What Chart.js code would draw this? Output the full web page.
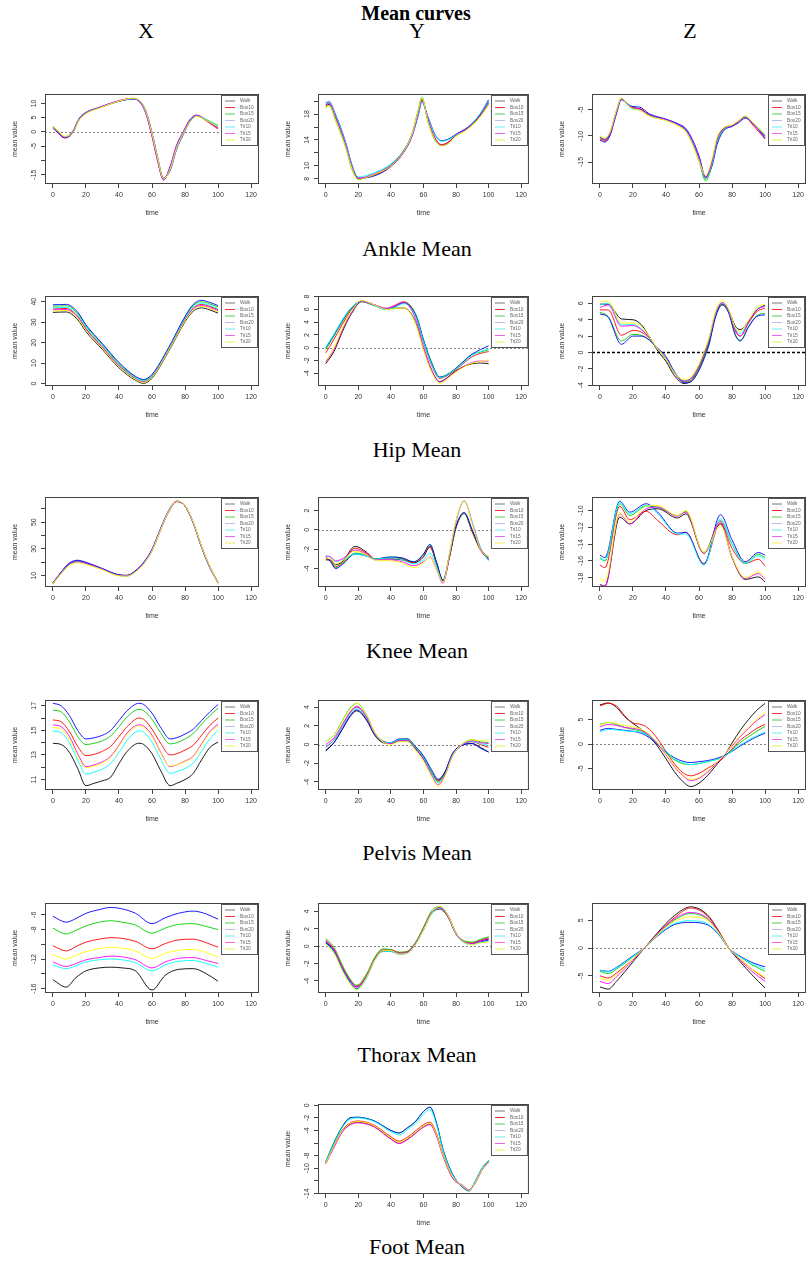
<!DOCTYPE html>
<html>
<head>
<meta charset="utf-8">
<script src="https://cdn.jsdelivr.net/npm/chart.js@4.4.0/dist/chart.umd.min.js"></script>
<style>
  body { margin: 0; width: 807px; height: 1266px; background: #fff; position: relative; overflow: hidden; }
  .lbl { position: absolute; transform: translate(-50%, -50%); font-family: "Liberation Serif", "Times New Roman", serif; color: #000; white-space: nowrap; line-height: 1; }
  .main { font-weight: bold; font-size: 20px; }
  .axis { font-size: 22px; }
  .row { font-size: 22px; }
  canvas { position: absolute; }
</style>
</head>
<body>
<div class="lbl main" style="left:416px;top:13px">Mean curves</div>
<div class="lbl axis" style="left:146px;top:31px">X</div>
<div class="lbl axis" style="left:417px;top:31px">Y</div>
<div class="lbl axis" style="left:690px;top:31px">Z</div>
<div class="lbl row" style="left:417px;top:249px">Ankle Mean</div>
<div class="lbl row" style="left:417px;top:450px">Hip Mean</div>
<div class="lbl row" style="left:417px;top:651px">Knee Mean</div>
<div class="lbl row" style="left:417px;top:853px">Pelvis Mean</div>
<div class="lbl row" style="left:417px;top:1055px">Thorax Mean</div>
<div class="lbl row" style="left:417px;top:1247px">Foot Mean</div>

<script>
// --- series names and shared x ticks ---
const SERIES = ['Walk', 'Box10', 'Box15', 'Box20', 'Tri10', 'Tri15', 'Tri20'];
const timeTicks = [0, 20, 40, 60, 80, 100, 120];

// --- Ankle X ---
const ankleX_time  = [0,3,7,12,16,20,28,38,48,52,56,60,63,67,71,75,79,83,87,93,100];
const ankleX_walk  = [1.6,0.0,-2.0,0.0,4.8,6.8,8.5,10.5,11.6,10.9,7.0,-1.3,-9.0,-16.8,-12.3,-4.7,0.0,4.2,5.9,4.0,1.5];
const ankleX_box10 = [1.3,-0.3,-2.1,-0.2,4.6,6.7,8.5,10.6,11.8,11.0,7.2,-1.0,-8.7,-16.6,-12.6,-5.0,-0.2,4.0,5.8,3.8,1.0];
const ankleX_box15 = [2.0,0.4,-1.7,0.2,4.9,6.9,8.6,10.5,11.6,11.0,7.3,-0.8,-8.5,-16.5,-12.8,-5.2,-0.3,3.9,5.8,4.3,2.2];
const ankleX_box20 = [1.4,-0.2,-2.1,-0.4,4.4,6.6,8.4,10.4,11.5,11.1,7.8,-0.2,-7.8,-16.2,-13.6,-6.0,-0.9,3.6,5.7,4.1,1.4];
const ankleX_tri10 = [1.5,0.1,-1.8,0.1,4.9,6.9,8.5,10.5,11.6,10.9,7.1,-1.1,-8.8,-16.7,-12.5,-4.9,-0.1,4.1,5.8,4.2,1.9];
const ankleX_tri15 = [1.6,0.0,-1.9,0.0,4.7,6.8,8.6,10.6,11.7,10.8,6.8,-1.6,-9.3,-16.9,-12.0,-4.4,0.2,4.4,5.8,3.9,1.3];
const ankleX_tri20 = [1.8,0.3,-1.5,-0.4,4.2,6.4,8.3,10.4,11.8,11.3,7.6,-0.5,-8.1,-16.4,-13.2,-5.6,-0.6,3.5,5.4,4.0,1.7];
const ankleX_ticks = [-15,-10,-5,0,5,10];
const ankleX_labels = ['-15','','-5','0','5','10'];

// --- Ankle Y ---
const ankleY_time  = [0,2,6,12,16,20,26,34,40,47,53,57,59,63,67,71,75,80,87,94,100];
const ankleY_walk  = [19.3,19.5,17.4,13.3,9.8,8.0,8.3,9.1,10.1,12.0,14.9,18.6,20.3,16.8,14.2,13.2,13.6,14.8,15.9,17.6,19.9];
const ankleY_box10 = [19.5,19.7,17.6,13.5,9.9,8.0,8.3,9.0,10.0,11.8,14.7,18.4,20.1,17.0,14.4,13.3,13.6,14.7,15.8,17.4,19.4];
const ankleY_box15 = [19.0,19.3,17.0,13.0,9.5,7.9,8.4,9.2,10.2,12.1,15.0,18.9,20.6,16.6,14.0,13.1,13.4,14.6,15.7,17.4,19.6];
const ankleY_box20 = [19.7,19.9,17.9,13.8,10.2,8.1,8.2,8.9,9.9,11.8,14.6,18.0,19.9,17.4,14.9,13.9,14.1,14.9,15.9,17.7,20.2];
const ankleY_tri10 = [19.6,19.8,17.8,13.7,10.1,8.3,8.6,9.4,10.3,12.1,14.8,18.2,19.9,17.2,14.8,13.8,14.0,14.8,15.8,17.8,20.0];
const ankleY_tri15 = [19.4,19.6,17.5,13.4,9.9,8.1,8.4,9.2,10.1,12.0,14.8,18.5,20.2,16.9,14.3,13.2,13.5,14.7,15.8,17.5,19.7];
const ankleY_tri20 = [19.1,19.3,17.1,13.0,9.6,7.9,8.3,9.1,10.0,11.9,14.9,18.8,20.5,16.6,14.1,13.1,13.4,14.6,15.6,17.3,19.4];
const ankleY_ticks = [8,10,12,14,16,18,20];
const ankleY_labels = ['8','10','','14','','18',''];

// --- Ankle Z ---
const ankleZ_time  = [0,3,6,10,13,17,20,24,30,40,48,52,56,60,64,68,71,75,80,84,88,92,100];
const ankleZ_walk  = [-10.3,-10.8,-9.6,-5.3,-2.9,-4.0,-4.6,-4.8,-6.0,-6.9,-7.9,-8.8,-11.1,-14.3,-18.0,-14.8,-10.6,-8.6,-8.0,-7.2,-6.3,-7.5,-10.0];
const ankleZ_box10 = [-10.6,-11.0,-9.8,-5.5,-3.0,-4.1,-4.7,-4.8,-6.1,-7.0,-8.0,-8.9,-11.2,-14.5,-18.2,-15.0,-10.8,-8.6,-8.1,-7.3,-6.4,-7.7,-10.6];
const ankleZ_box15 = [-10.2,-10.6,-9.4,-5.2,-2.8,-4.0,-4.8,-5.0,-6.2,-7.0,-8.1,-9.1,-11.5,-14.8,-18.6,-15.5,-11.2,-8.8,-8.0,-7.1,-6.4,-7.5,-9.9];
const ankleZ_box20 = [-10.8,-11.2,-10.0,-5.8,-3.1,-4.0,-4.4,-4.5,-5.8,-6.8,-7.8,-8.6,-10.7,-13.8,-17.8,-15.6,-11.6,-9.0,-8.2,-7.5,-6.6,-7.4,-10.4];
const ankleZ_tri10 = [-10.0,-10.5,-9.5,-5.3,-2.9,-4.2,-4.9,-5.0,-6.2,-7.0,-8.0,-8.9,-11.2,-14.4,-18.2,-15.2,-10.9,-8.7,-8.0,-7.2,-6.3,-7.3,-9.8];
const ankleZ_tri15 = [-10.2,-10.7,-9.6,-5.4,-2.9,-4.1,-4.7,-4.9,-6.1,-6.9,-8.0,-8.9,-11.0,-14.2,-17.9,-14.7,-10.6,-8.6,-8.0,-7.2,-6.3,-7.5,-10.1];
const ankleZ_tri20 = [-10.1,-10.4,-9.3,-5.1,-2.8,-4.1,-4.8,-5.1,-6.2,-7.1,-8.2,-9.2,-11.6,-14.9,-17.5,-14.2,-10.2,-8.4,-7.9,-7.1,-6.2,-7.2,-9.7];
const ankleZ_ticks = [-15,-10,-5];
const ankleZ_labels = ['-15','-10','-5'];

// --- Hip X ---
const hipX_time  = [0,8,15,20,30,40,50,55,60,70,80,85,90,95,100];
const hipX_walk  = [34.8,35.0,31.2,25.4,16.6,7.7,1.6,0.1,2.6,15.6,30.2,35.4,37.0,36.0,34.4];
const hipX_box10 = [36.5,36.7,32.9,26.9,17.9,8.9,2.5,1.0,3.5,16.5,31.4,36.9,38.7,37.7,36.1];
const hipX_box15 = [37.8,38.0,34.2,28.1,19.0,9.8,3.1,1.6,4.1,17.1,32.3,38.1,40.0,39.0,37.4];
const hipX_box20 = [38.5,38.7,34.9,28.7,19.5,10.3,3.5,2.0,4.5,17.5,32.8,38.7,40.7,39.7,38.1];
const hipX_tri10 = [37.0,37.2,33.4,27.4,18.3,9.3,2.7,1.2,3.7,16.7,31.8,37.4,39.2,38.2,36.6];
const hipX_tri15 = [36.0,36.2,32.4,26.5,17.5,8.6,2.2,0.7,3.2,16.2,31.1,36.5,38.2,37.2,35.6];
const hipX_tri20 = [35.5,35.7,31.9,26.0,17.1,8.2,2.0,0.5,3.0,16.0,30.7,36.0,37.7,36.7,35.1];
const hipX_ticks = [0,10,20,30,40];
const hipX_labels = ['0','10','20','30','40'];

// --- Hip Y ---
const hipY_time  = [0,5,10,15,22,30,37,42,48,52,56,60,65,70,75,80,90,95,100];
const hipY_walk  = [-2.5,-0.6,2.4,5.0,7.2,6.6,6.1,6.2,6.2,5.5,3.4,-0.1,-3.6,-5.3,-4.6,-3.6,-2.5,-2.4,-2.5];
const hipY_box10 = [-0.8,1.3,3.6,5.7,7.3,6.7,6.1,6.6,7.2,6.5,4.5,0.9,-2.7,-4.8,-4.3,-3.4,-1.4,-0.9,-0.6];
const hipY_box15 = [-0.3,1.8,4.0,5.9,7.3,6.6,6.0,6.4,7.1,6.6,4.8,1.3,-2.3,-4.6,-4.1,-3.2,-1.0,-0.7,-0.3];
const hipY_box20 = [0.0,2.0,4.2,6.0,7.3,6.7,6.0,6.4,7.0,6.4,4.6,1.2,-2.4,-4.6,-4.2,-3.2,-1.0,-0.3,0.3];
const hipY_tri10 = [0.1,2.1,4.3,6.1,7.3,6.6,6.0,6.3,6.9,6.3,4.4,1.0,-2.6,-4.7,-4.2,-3.3,-1.2,-0.6,-0.2];
const hipY_tri15 = [-2.2,-0.3,2.7,5.2,7.3,6.7,6.2,6.5,7.1,6.2,3.9,0.2,-3.4,-5.4,-4.7,-3.7,-2.3,-2.1,-2.1];
const hipY_tri20 = [-2.0,0.0,3.0,5.4,7.4,6.7,6.0,6.1,6.2,5.4,3.2,-0.3,-3.8,-5.6,-4.8,-3.8,-2.4,-2.2,-1.9];
const hipY_ticks = [-4,-2,0,2,4,6,8];
const hipY_labels = ['-4','-2','0','2','4','6','8'];

// --- Hip Z ---
const hipZ_time  = [0,5,13,20,25,30,35,40,45,51,55,60,63,66,70,74,78,82,85,90,95,100];
const hipZ_walk  = [5.9,5.9,4.1,4.0,3.4,1.9,0.2,-1.1,-2.8,-3.8,-3.5,-2.0,-0.5,1.2,4.5,5.9,5.1,3.2,2.8,3.8,5.2,5.8];
const hipZ_box10 = [5.2,5.2,2.1,2.7,2.5,1.7,0.4,-0.8,-2.5,-3.5,-3.3,-1.7,-0.2,1.5,4.7,5.9,5.0,2.6,2.0,3.6,5.0,5.4];
const hipZ_box15 = [4.9,4.4,1.4,2.2,2.1,1.5,0.4,-0.7,-2.4,-3.6,-3.5,-2.0,-0.6,1.1,4.5,5.9,4.9,2.2,1.5,3.2,4.5,4.8];
const hipZ_box20 = [4.7,4.3,1.0,2.0,2.0,1.5,0.5,-0.5,-2.3,-3.7,-3.6,-2.2,-0.8,0.9,4.3,5.8,4.8,2.1,1.4,3.1,4.4,4.6];
const hipZ_tri10 = [5.8,6.0,3.4,3.4,2.9,1.8,0.4,-0.8,-2.4,-3.4,-3.2,-1.6,-0.1,1.6,4.8,6.1,5.1,2.9,2.3,3.8,5.3,5.6];
const hipZ_tri15 = [5.5,5.8,3.2,3.3,2.8,1.8,0.4,-0.8,-2.5,-3.5,-3.2,-1.6,-0.1,1.6,4.8,6.1,5.1,2.8,2.0,3.7,5.2,5.7];
const hipZ_tri20 = [6.2,6.3,3.6,3.6,3.2,1.9,0.4,-0.8,-2.5,-3.3,-3.0,-1.4,0.1,1.8,5.0,6.4,5.3,3.0,2.6,4.0,5.5,5.9];
const hipZ_ticks = [-4,-2,0,2,4,6];
const hipZ_labels = ['-4','-2','0','2','4','6'];

// --- Knee X ---
const kneeX_time  = [0,5,10,15,20,30,40,45,50,55,60,65,70,75,80,85,90,95,100];
const kneeX_walk  = [4.5,12.5,19.0,21.0,19.5,15.0,10.5,10.2,13.5,19.5,29.0,44.0,58.0,65.5,62.0,49.5,31.5,16.5,4.8];
const kneeX_box10 = [4.2,12.0,18.5,20.5,19.2,14.8,10.3,10.0,13.2,19.0,28.5,43.5,57.5,65.3,62.2,49.8,31.8,16.8,4.5];
const kneeX_box15 = [3.8,11.5,18.2,20.3,19.0,14.8,10.4,10.1,13.4,19.3,28.8,43.8,57.8,65.6,62.0,49.4,31.4,16.2,4.2];
const kneeX_box20 = [4.6,12.8,19.5,21.5,20.0,15.3,10.6,10.2,13.8,20.0,29.8,44.8,58.5,65.8,62.0,49.2,31.2,16.0,4.8];
const kneeX_tri10 = [4.4,12.2,18.6,20.5,19.0,14.6,10.0,9.7,13.0,19.0,28.8,44.0,58.0,65.6,62.1,49.6,31.6,16.4,4.6];
const kneeX_tri15 = [4.5,12.3,18.6,20.4,19.1,14.7,10.1,9.8,13.2,19.3,28.8,43.8,57.7,65.5,62.1,49.7,31.7,16.6,4.7];
const kneeX_tri20 = [4.0,11.5,17.6,19.6,18.4,14.3,9.8,9.6,12.8,18.8,28.5,43.6,57.8,65.8,62.4,49.9,31.9,16.9,4.4];
const kneeX_ticks = [10,20,30,40,50,60];
const kneeX_labels = ['10','','30','','50',''];

// --- Knee Y ---
const kneeY_time  = [0,3,6,10,18,25,30,40,47,54,60,64,68,72,76,80,85,90,95,100];
const kneeY_walk  = [-3.1,-3.1,-3.6,-3.3,-1.7,-2.3,-3.0,-3.0,-3.1,-3.4,-2.8,-1.7,-3.4,-5.3,-2.8,0.3,1.7,-0.2,-2.0,-2.9];
const kneeY_box10 = [-3.0,-3.2,-3.8,-3.4,-1.9,-2.4,-3.0,-2.9,-3.0,-3.4,-2.6,-1.8,-3.5,-5.3,-2.8,0.2,1.7,-0.2,-2.1,-3.0];
const kneeY_box15 = [-2.8,-3.3,-3.9,-3.5,-2.4,-2.6,-3.0,-2.8,-2.9,-3.3,-2.5,-1.5,-3.4,-5.2,-2.7,0.3,1.7,-0.1,-2.0,-2.8];
const kneeY_box20 = [-2.8,-3.3,-4.0,-3.6,-2.5,-2.7,-3.0,-2.8,-2.9,-3.3,-2.5,-1.5,-3.3,-5.2,-2.6,0.4,1.8,0.0,-2.0,-3.1];
const kneeY_tri10 = [-2.7,-2.8,-3.3,-3.1,-2.5,-2.7,-3.0,-2.9,-3.1,-3.5,-3.1,-2.4,-3.8,-5.4,-2.5,0.9,3.0,0.8,-1.8,-3.2];
const kneeY_tri15 = [-2.7,-2.8,-3.2,-3.0,-2.1,-2.5,-3.1,-3.1,-3.3,-3.7,-3.3,-2.8,-4.1,-5.5,-2.5,0.9,3.0,0.7,-1.9,-2.9];
const kneeY_tri20 = [-2.9,-3.0,-3.5,-3.2,-2.2,-2.6,-3.1,-3.2,-3.4,-3.9,-3.4,-2.8,-4.1,-5.4,-2.4,1.0,3.0,0.6,-2.0,-2.8];
const kneeY_ticks = [-4,-2,0,2];
const kneeY_labels = ['-4','-2','0','2'];

// --- Knee Z ---
const kneeZ_time  = [0,3,12,18,28,35,47,52,63,73,80,88,96,100];
const kneeZ_walk  = [-18.8,-19.0,-10.8,-11.6,-10.0,-9.8,-10.9,-10.4,-15.1,-11.6,-15.6,-18.2,-17.9,-18.5];
const kneeZ_box10 = [-16.5,-16.8,-9.5,-11.1,-10.1,-11.2,-12.9,-12.6,-16.3,-11.5,-14.5,-16.3,-15.8,-16.6];
const kneeZ_box15 = [-15.7,-16.0,-9.2,-10.6,-9.5,-9.6,-10.6,-10.1,-15.0,-11.2,-14.0,-16.3,-15.2,-15.6];
const kneeZ_box20 = [-15.3,-15.6,-8.9,-10.2,-9.2,-10.2,-12.7,-12.6,-16.4,-10.5,-13.5,-16.1,-15.0,-15.3];
const kneeZ_tri10 = [-15.6,-15.9,-9.0,-10.4,-9.4,-10.4,-12.8,-12.8,-16.5,-11.0,-14.0,-16.3,-15.4,-15.8];
const kneeZ_tri15 = [-18.8,-19.0,-10.4,-11.6,-9.8,-9.6,-10.7,-10.2,-15.1,-11.3,-15.5,-18.1,-17.5,-18.2];
const kneeZ_tri20 = [-18.1,-18.4,-10.3,-11.4,-9.5,-9.4,-10.6,-10.0,-15.0,-11.8,-15.5,-18.0,-17.3,-17.9];
const kneeZ_ticks = [-18,-16,-14,-12,-10];
const kneeZ_labels = ['-18','-16','-14','-12','-10'];

// --- Pelvis X ---
const pelvisX_time  = [0,5,10,15,20,25,30,35,40,45,52,55,60,65,71,75,80,85,90,95,100];
const pelvisX_walk  = [13.95,13.85,13.2,11.9,10.5,10.7,10.9,11.2,12.3,13.3,13.95,13.85,13.1,11.8,10.5,10.7,11.0,11.5,12.6,13.6,14.05];
const pelvisX_box10 = [15.85,15.7,14.9,13.7,12.95,13.05,13.3,13.7,14.5,15.3,16.0,15.9,15.1,14.0,13.0,13.1,13.4,13.8,14.6,15.4,16.0];
const pelvisX_box15 = [16.65,16.5,15.7,14.5,13.85,13.95,14.15,14.55,15.3,16.1,16.7,16.6,15.9,14.85,13.9,14.0,14.3,14.75,15.5,16.2,16.8];
const pelvisX_box20 = [17.2,17.0,16.2,15.0,14.3,14.4,14.6,15.0,15.8,16.6,17.2,17.1,16.4,15.3,14.3,14.4,14.7,15.1,15.8,16.5,17.1];
const pelvisX_tri10 = [14.95,14.8,14.0,12.6,11.45,11.6,11.85,12.3,13.2,14.2,14.95,14.85,14.05,12.75,11.5,11.65,11.9,12.35,13.3,14.3,15.0];
const pelvisX_tri15 = [15.45,15.3,14.5,13.1,12.05,12.2,12.45,12.9,13.8,14.8,15.45,15.35,14.6,13.3,12.05,12.2,12.5,12.9,13.9,14.9,15.5];
const pelvisX_tri20 = [15.25,15.1,14.3,12.9,11.95,12.1,12.35,12.8,13.7,14.7,15.35,15.25,14.5,13.2,12.1,12.2,12.45,12.85,13.8,14.8,15.35];
const pelvisX_ticks = [11,12,13,14,15,16,17];
const pelvisX_labels = ['11','','13','','15','','17'];

// --- Pelvis Y ---
const pelvisY_time  = [0,5,10,15,19,25,30,35,40,45,50,55,60,65,69,73,78,85,90,95,100];
const pelvisY_walk  = [-0.7,0.2,1.6,3.0,3.6,2.6,1.0,0.2,0.1,0.4,0.4,-0.4,-1.5,-3.0,-3.8,-3.0,-1.0,0.0,0.1,-0.3,-0.8];
const pelvisY_box10 = [-0.3,0.5,1.9,3.4,4.0,2.9,1.2,0.3,0.2,0.5,0.5,-0.3,-1.4,-3.0,-3.9,-3.1,-1.0,0.1,0.3,0.0,-0.3];
const pelvisY_box15 = [0.3,1.0,2.5,3.9,4.4,3.2,1.3,0.4,0.2,0.5,0.6,-0.2,-1.3,-2.9,-4.0,-3.2,-1.1,0.2,0.5,0.3,0.2];
const pelvisY_box20 = [-0.6,0.2,1.6,3.1,3.7,2.7,1.1,0.3,0.2,0.6,0.6,-0.2,-1.2,-2.7,-3.7,-3.0,-0.9,0.0,0.1,-0.4,-0.8];
const pelvisY_tri10 = [-0.2,0.5,1.9,3.3,3.9,2.9,1.2,0.3,0.2,0.5,0.5,-0.3,-1.4,-3.1,-4.1,-3.3,-1.1,0.1,0.3,0.1,-0.1];
const pelvisY_tri15 = [0.0,0.7,2.1,3.5,4.1,3.0,1.2,0.3,0.1,0.4,0.4,-0.5,-1.6,-3.3,-4.3,-3.4,-1.2,0.1,0.4,0.2,0.1];
const pelvisY_tri20 = [0.3,1.0,2.4,3.8,4.4,3.2,1.3,0.3,0.0,0.3,0.3,-0.6,-1.8,-3.5,-4.5,-3.5,-1.2,0.2,0.5,0.4,0.4];
const pelvisY_ticks = [-4,-2,0,2,4];
const pelvisY_labels = ['-4','-2','0','2','4'];

// --- Pelvis Z ---
const pelvisZ_time  = [0,5,10,15,20,25,30,35,40,45,50,55,60,65,70,75,80,85,90,95,100];
const pelvisZ_walk  = [8.0,8.4,7.5,5.6,4.2,3.0,1.5,-0.5,-3.0,-5.6,-7.6,-8.7,-8.0,-6.5,-4.5,-2.5,0.2,2.8,5.0,6.9,8.3];
const pelvisZ_box10 = [7.8,8.3,7.8,5.8,4.3,4.0,3.0,1.0,-1.5,-4.0,-5.8,-6.5,-6.0,-5.0,-4.0,-2.8,-1.0,0.8,2.0,3.2,4.0];
const pelvisZ_box15 = [4.0,4.4,4.0,3.4,3.0,2.6,1.6,0.0,-1.8,-3.2,-4.0,-4.2,-4.0,-3.6,-3.2,-2.5,-1.2,0.3,1.5,2.6,3.6];
const pelvisZ_box20 = [2.8,3.2,3.0,2.8,2.6,2.2,1.3,-0.2,-1.6,-2.8,-3.5,-3.8,-3.6,-3.4,-3.0,-2.4,-1.5,-0.4,0.6,1.5,2.2];
const pelvisZ_tri10 = [2.5,3.0,2.9,2.7,2.6,2.4,1.6,0.2,-1.5,-3.0,-3.8,-4.2,-4.0,-3.6,-3.2,-2.6,-1.4,-0.2,0.8,1.7,2.4];
const pelvisZ_tri15 = [3.5,4.0,3.8,3.4,3.2,2.8,1.8,0.0,-2.2,-4.6,-6.4,-7.5,-7.0,-5.8,-4.2,-2.4,-0.4,1.5,3.2,4.8,6.0];
const pelvisZ_tri20 = [3.8,4.4,4.2,3.8,3.5,3.0,2.0,0.2,-2.0,-4.4,-6.2,-7.2,-6.8,-5.5,-4.0,-2.3,-0.2,1.7,3.5,5.0,6.5];
const pelvisZ_ticks = [-5,0,5];
const pelvisZ_labels = ['-5','0','5'];

// --- Thorax X ---
const thoraxX_time  = [0,8,14,20,28,35,42,50,60,68,76,85,93,100];
const thoraxX_walk  = [-14.8,-15.8,-14.5,-13.6,-13.2,-13.1,-13.2,-13.6,-16.2,-14.2,-13.4,-13.3,-14.0,-15.0];
const thoraxX_box10 = [-10.2,-10.9,-10.3,-9.7,-9.3,-9.1,-9.2,-9.6,-10.6,-9.9,-9.4,-9.3,-9.8,-10.4];
const thoraxX_box15 = [-7.8,-8.6,-8.1,-7.5,-7.0,-6.8,-7.0,-7.4,-8.5,-7.8,-7.3,-7.2,-7.6,-8.0];
const thoraxX_box20 = [-6.2,-7.0,-6.5,-5.8,-5.3,-5.0,-5.2,-5.8,-7.2,-6.4,-5.8,-5.5,-5.9,-6.6];
const thoraxX_tri10 = [-12.8,-13.3,-12.9,-12.4,-12.1,-12.0,-12.1,-12.5,-13.6,-12.8,-12.3,-12.2,-12.6,-13.1];
const thoraxX_tri15 = [-12.4,-13.0,-12.6,-12.1,-11.8,-11.6,-11.7,-12.1,-13.2,-12.4,-11.9,-11.8,-12.2,-12.6];
const thoraxX_tri20 = [-11.4,-12.0,-11.5,-11.0,-10.6,-10.4,-10.5,-10.9,-11.9,-11.2,-10.8,-10.7,-11.1,-11.7];
const thoraxX_ticks = [-16,-14,-12,-10,-8,-6];
const thoraxX_labels = ['-16','','-12','','-8','-6'];

// --- Thorax Y ---
const thoraxY_time  = [0,5,10,15,19,25,30,35,40,45,50,55,60,65,70,75,80,85,90,95,100];
const thoraxY_walk  = [0.5,-0.5,-2.5,-4.0,-4.7,-3.5,-1.5,-0.5,-0.5,-0.8,-0.7,0.3,2.0,3.8,4.3,3.4,1.4,0.5,0.3,0.6,0.8];
const thoraxY_box10 = [0.7,-0.3,-2.3,-3.9,-4.6,-3.4,-1.4,-0.4,-0.4,-0.7,-0.6,0.4,2.1,3.9,4.4,3.5,1.5,0.6,0.4,0.7,1.0];
const thoraxY_box15 = [0.9,-0.1,-2.1,-3.8,-4.5,-3.2,-1.3,-0.3,-0.4,-0.7,-0.6,0.4,2.2,4.1,4.6,3.6,1.5,0.6,0.5,0.8,1.1];
const thoraxY_box20 = [0.4,-0.6,-2.6,-4.2,-4.9,-3.6,-1.6,-0.6,-0.6,-0.9,-0.8,0.2,1.9,3.8,4.5,3.6,1.5,0.5,0.3,0.5,0.7];
const thoraxY_tri10 = [0.3,-0.7,-2.7,-4.3,-5.0,-3.7,-1.6,-0.6,-0.6,-0.9,-0.8,0.2,1.9,3.7,4.4,3.5,1.4,0.4,0.2,0.4,0.6];
const thoraxY_tri15 = [0.6,-0.4,-2.4,-4.0,-4.7,-3.5,-1.5,-0.5,-0.5,-0.8,-0.7,0.3,2.0,3.9,4.5,3.5,1.4,0.5,0.3,0.6,0.9];
const thoraxY_tri20 = [0.2,-0.8,-2.8,-4.4,-5.0,-3.6,-1.6,-0.5,-0.5,-0.9,-0.8,0.2,1.9,3.8,4.6,3.6,1.5,0.5,0.2,0.4,0.5];
const thoraxY_ticks = [-4,-2,0,2,4];
const thoraxY_labels = ['-4','-2','0','2','4'];

// --- Thorax Z ---
const thoraxZ_time  = [0,5,10,20,27,35,45,55,65,72,78,85,92,100];
const thoraxZ_walk  = [-7.0,-7.4,-6.0,-2.5,0.0,2.8,5.8,7.4,6.0,3.0,0.0,-2.5,-4.8,-7.2];
const thoraxZ_box10 = [-5.0,-5.4,-4.5,-2.0,0.0,2.6,5.4,7.2,5.8,3.0,0.0,-2.0,-3.8,-5.5];
const thoraxZ_box15 = [-4.2,-4.6,-3.8,-1.6,0.0,2.4,5.0,6.2,5.2,2.8,0.0,-1.6,-3.0,-4.2];
const thoraxZ_box20 = [-4.0,-4.2,-3.5,-1.4,0.0,2.2,4.2,4.6,4.2,2.4,0.0,-1.5,-2.6,-3.4];
const thoraxZ_tri10 = [-4.0,-4.3,-3.6,-1.5,0.0,2.3,4.4,4.9,4.4,2.5,0.0,-1.6,-2.8,-3.8];
const thoraxZ_tri15 = [-6.0,-6.4,-5.2,-2.2,0.0,2.6,5.2,6.4,5.4,2.8,0.0,-2.2,-4.2,-6.0];
const thoraxZ_tri20 = [-5.5,-5.8,-4.8,-2.0,0.0,2.4,4.8,5.6,5.0,2.7,0.0,-2.0,-3.8,-5.2];
const thoraxZ_ticks = [-5,0,5];
const thoraxZ_labels = ['-5','0','5'];

// --- Foot (Y only) ---
const foot_time  = [0,5,10,15,20,25,30,40,45,50,55,60,64,68,72,78,84,88,92,96,100];
const foot_walk  = [-9.2,-6.6,-4.2,-3.0,-2.7,-2.9,-3.4,-5.3,-6.0,-5.4,-4.4,-3.4,-3.0,-4.8,-8.0,-11.5,-12.8,-13.5,-12.2,-10.2,-9.0];
const foot_box10 = [-9.1,-6.4,-4.0,-2.8,-2.5,-2.7,-3.2,-5.0,-5.7,-5.1,-4.1,-3.1,-2.7,-4.5,-7.8,-11.4,-12.9,-13.5,-12.1,-10.1,-8.9];
const foot_box15 = [-8.9,-5.9,-3.4,-2.0,-1.9,-2.1,-2.5,-4.0,-4.4,-3.6,-2.6,-1.0,-0.3,-2.8,-7.0,-11.0,-13.0,-13.6,-12.0,-10.0,-8.8];
const foot_box20 = [-9.0,-6.0,-3.5,-2.0,-1.9,-2.1,-2.5,-4.0,-4.4,-3.6,-2.6,-1.0,-0.3,-2.8,-7.0,-11.0,-13.0,-13.6,-12.0,-10.0,-8.8];
const foot_tri10 = [-9.0,-6.1,-3.6,-2.2,-2.0,-2.2,-2.6,-4.2,-4.7,-3.9,-2.9,-1.4,-0.7,-3.1,-7.2,-11.1,-12.9,-13.5,-12.0,-10.0,-8.8];
const foot_tri15 = [-9.3,-6.7,-4.3,-3.1,-2.8,-3.0,-3.5,-5.4,-6.1,-5.5,-4.5,-3.5,-3.1,-4.9,-8.1,-11.6,-12.7,-13.4,-12.3,-10.3,-9.1];
const foot_tri20 = [-9.2,-6.5,-4.1,-2.9,-2.6,-2.8,-3.3,-5.2,-5.9,-5.3,-4.3,-3.3,-2.9,-4.7,-7.9,-11.4,-12.8,-13.5,-12.2,-10.2,-9.0];
const foot_ticks = [-14,-12,-10,-8,-6,-4,-2,0];
const foot_labels = ['-14','','-10','-8','','-4','-2','0'];

// --- look of the figure ---
const COLORS = ['#000000', '#ff0000', '#00cd00', '#0000ff', '#00ffff', '#ff00ff', '#ffff00'];
const LEGEND_COLORS = ['#777777', '#ee3333', '#55cc55', '#bbbbee', '#66eeee', '#ee66ee', '#eeee55'];
const COL_LEFT = [45, 318, 592];
const COL_WIDTH = [214, 211, 214];
const ROW_TOP = [94, 296, 497, 700, 903, 1104];
const BOX_H = 90;
const AXIS_W = 45, AXIS_H = 40, PAD_T = 6, PAD_R = 1;

const panels = [
  { col: 0, row: 0, time: ankleX_time, vals: [ankleX_walk, ankleX_box10, ankleX_box15, ankleX_box20, ankleX_tri10, ankleX_tri15, ankleX_tri20], min: -18.3, max: 13.3, ticks: ankleX_ticks, labels: ankleX_labels, zero: 'grey' },
  { col: 1, row: 0, time: ankleY_time, vals: [ankleY_walk, ankleY_box10, ankleY_box15, ankleY_box20, ankleY_tri10, ankleY_tri15, ankleY_tri20], min: 7.2, max: 21.1, ticks: ankleY_ticks, labels: ankleY_labels, zero: null },
  { col: 2, row: 0, time: ankleZ_time, vals: [ankleZ_walk, ankleZ_box10, ankleZ_box15, ankleZ_box20, ankleZ_tri10, ankleZ_tri15, ankleZ_tri20], min: -19.2, max: -2.0, ticks: ankleZ_ticks, labels: ankleZ_labels, zero: null },
  { col: 0, row: 1, time: hipX_time, vals: [hipX_walk, hipX_box10, hipX_box15, hipX_box20, hipX_tri10, hipX_tri15, hipX_tri20], min: -1.2, max: 42.8, ticks: hipX_ticks, labels: hipX_labels, zero: null },
  { col: 1, row: 1, time: hipY_time, vals: [hipY_walk, hipY_box10, hipY_box15, hipY_box20, hipY_tri10, hipY_tri15, hipY_tri20], min: -6.0, max: 8.1, ticks: hipY_ticks, labels: hipY_labels, zero: 'grey' },
  { col: 2, row: 1, time: hipZ_time, vals: [hipZ_walk, hipZ_box10, hipZ_box15, hipZ_box20, hipZ_tri10, hipZ_tri15, hipZ_tri20], min: -4.1, max: 6.9, ticks: hipZ_ticks, labels: hipZ_labels, zero: 'black' },
  { col: 0, row: 2, time: kneeX_time, vals: [kneeX_walk, kneeX_box10, kneeX_box15, kneeX_box20, kneeX_tri10, kneeX_tri15, kneeX_tri20], min: 1.5, max: 68.8, ticks: kneeX_ticks, labels: kneeX_labels, zero: null },
  { col: 1, row: 2, time: kneeY_time, vals: [kneeY_walk, kneeY_box10, kneeY_box15, kneeY_box20, kneeY_tri10, kneeY_tri15, kneeY_tri20], min: -5.9, max: 3.4, ticks: kneeY_ticks, labels: kneeY_labels, zero: 'grey' },
  { col: 2, row: 2, time: kneeZ_time, vals: [kneeZ_walk, kneeZ_box10, kneeZ_box15, kneeZ_box20, kneeZ_tri10, kneeZ_tri15, kneeZ_tri20], min: -19.1, max: -8.4, ticks: kneeZ_ticks, labels: kneeZ_labels, zero: null },
  { col: 0, row: 3, time: pelvisX_time, vals: [pelvisX_walk, pelvisX_box10, pelvisX_box15, pelvisX_box20, pelvisX_tri10, pelvisX_tri15, pelvisX_tri20], min: 10.15, max: 17.47, ticks: pelvisX_ticks, labels: pelvisX_labels, zero: null },
  { col: 1, row: 3, time: pelvisY_time, vals: [pelvisY_walk, pelvisY_box10, pelvisY_box15, pelvisY_box20, pelvisY_tri10, pelvisY_tri15, pelvisY_tri20], min: -4.86, max: 4.76, ticks: pelvisY_ticks, labels: pelvisY_labels, zero: 'grey' },
  { col: 2, row: 3, time: pelvisZ_time, vals: [pelvisZ_walk, pelvisZ_box10, pelvisZ_box15, pelvisZ_box20, pelvisZ_tri10, pelvisZ_tri15, pelvisZ_tri20], min: -9.4, max: 9.0, ticks: pelvisZ_ticks, labels: pelvisZ_labels, zero: 'grey' },
  { col: 0, row: 4, time: thoraxX_time, vals: [thoraxX_walk, thoraxX_box10, thoraxX_box15, thoraxX_box20, thoraxX_tri10, thoraxX_tri15, thoraxX_tri20], min: -16.6, max: -4.4, ticks: thoraxX_ticks, labels: thoraxX_labels, zero: null },
  { col: 1, row: 4, time: thoraxY_time, vals: [thoraxY_walk, thoraxY_box10, thoraxY_box15, thoraxY_box20, thoraxY_tri10, thoraxY_tri15, thoraxY_tri20], min: -5.4, max: 5.0, ticks: thoraxY_ticks, labels: thoraxY_labels, zero: 'grey' },
  { col: 2, row: 4, time: thoraxZ_time, vals: [thoraxZ_walk, thoraxZ_box10, thoraxZ_box15, thoraxZ_box20, thoraxZ_tri10, thoraxZ_tri15, thoraxZ_tri20], min: -8.1, max: 8.1, ticks: thoraxZ_ticks, labels: thoraxZ_labels, zero: 'grey' },
  { col: 1, row: 5, time: foot_time, vals: [foot_walk, foot_box10, foot_box15, foot_box20, foot_tri10, foot_tri15, foot_tri20], min: -14.1, max: 0.2, ticks: foot_ticks, labels: foot_labels, zero: null }
];

// zero line, frame box, rotated y labels and the little legend
const rPlot = {
  id: 'rPlot',
  beforeDatasetsDraw(chart) {
    const p = chart.options.plugins.rPlot;
    if (!p.zero) return;
    const { ctx, chartArea: a, scales: { y } } = chart;
    const yy = Math.round(y.getPixelForValue(0)) + 0.5;
    ctx.save();
    ctx.strokeStyle = p.zero === 'black' ? '#000' : '#777';
    ctx.lineWidth = p.zero === 'black' ? 1.3 : 0.9;
    ctx.setLineDash(p.zero === 'black' ? [3, 2] : [2, 2]);
    ctx.beginPath();
    ctx.moveTo(a.left, yy);
    ctx.lineTo(a.right, yy);
    ctx.stroke();
    ctx.restore();
  },
  afterDraw(chart) {
    const p = chart.options.plugins.rPlot;
    const { ctx, chartArea: a, scales: { y } } = chart;
    ctx.save();
    ctx.strokeStyle = '#444';
    ctx.lineWidth = 1;
    ctx.strokeRect(a.left + 0.5, a.top + 0.5, a.right - a.left - 1, a.bottom - a.top - 1);

    // y tick labels, rotated like base R
    ctx.fillStyle = '#333';
    ctx.font = '7px "Liberation Sans", Arial, sans-serif';
    ctx.textAlign = 'center';
    ctx.textBaseline = 'middle';
    p.ticks.forEach((v, i) => {
      if (!p.labels[i]) return;
      ctx.save();
      ctx.translate(a.left - 11, y.getPixelForValue(v));
      ctx.rotate(-Math.PI / 2);
      ctx.fillText(p.labels[i], 0, 0);
      ctx.restore();
    });

    // legend box in the top right corner
    const lw = 37, lh = 51;
    const lx = a.right - lw - 1, ly = a.top + 1;
    ctx.fillStyle = '#fff';
    ctx.fillRect(lx, ly, lw, lh);
    ctx.strokeStyle = '#555';
    ctx.strokeRect(lx + 0.5, ly + 0.5, lw - 1, lh - 1);
    ctx.font = '4.8px "Liberation Sans", Arial, sans-serif';
    ctx.textAlign = 'left';
    SERIES.forEach((name, i) => {
      const yy = ly + 6 + i * 6.5;
      ctx.strokeStyle = LEGEND_COLORS[i];
      ctx.lineWidth = 1;
      ctx.beginPath();
      ctx.moveTo(lx + 4, yy);
      ctx.lineTo(lx + 14, yy);
      ctx.stroke();
      ctx.fillStyle = '#666';
      ctx.fillText(name, lx + 19, yy);
    });
    ctx.restore();
  }
};

const tickFont = { family: '"Liberation Sans", Arial, sans-serif', size: 7 };

panels.forEach(p => {
  const left = COL_LEFT[p.col] - AXIS_W;
  const top = ROW_TOP[p.row] - PAD_T;
  const w = COL_WIDTH[p.col] + AXIS_W + PAD_R;
  const h = BOX_H + PAD_T + AXIS_H;
  const cv = document.createElement('canvas');
  cv.width = w; cv.height = h;
  cv.style.left = left + 'px';
  cv.style.top = top + 'px';
  cv.style.width = w + 'px';
  cv.style.height = h + 'px';
  document.body.appendChild(cv);

  const datasets = p.vals.map((vals, i) => ({
    label: SERIES[i],
    data: p.time.map((t, k) => ({ x: t, y: vals[k] })),
    borderColor: COLORS[i],
    borderWidth: 0.9,
    pointRadius: 0,
    cubicInterpolationMode: 'monotone',
    fill: false,
    order: -i
  }));

  new Chart(cv, {
    type: 'line',
    data: { datasets },
    options: {
      responsive: false,
      animation: false,
      devicePixelRatio: 1,
      layout: { padding: { top: PAD_T, right: PAD_R, left: 0, bottom: 0 } },
      plugins: {
        legend: { display: false },
        tooltip: { enabled: false },
        rPlot: { zero: p.zero, ticks: p.ticks, labels: p.labels }
      },
      scales: {
        x: {
          type: 'linear',
          min: -4.8, max: 124.8,
          afterBuildTicks: s => { s.ticks = timeTicks.map(v => ({ value: v })); },
          afterFit: s => { s.height = AXIS_H; },
          grid: { drawOnChartArea: false, tickLength: 4, color: '#444' },
          border: { display: false },
          ticks: { font: tickFont, color: '#333', padding: 3, maxRotation: 0, autoSkip: false },
          title: { display: true, text: 'time', font: tickFont, color: '#333', padding: { top: 0, bottom: 6.5 } }
        },
        y: {
          min: p.min, max: p.max,
          afterBuildTicks: s => { s.ticks = p.ticks.map(v => ({ value: v })); },
          afterFit: s => { s.width = AXIS_W; },
          grid: { drawOnChartArea: false, tickLength: 4, color: '#444' },
          border: { display: false },
          ticks: { display: false },
          title: { display: true, text: 'mean value', font: tickFont, color: '#333', padding: { top: 10.8, bottom: 0 } }
        }
      }
    },
    plugins: [rPlot]
  });
});
</script>
</body>
</html>
